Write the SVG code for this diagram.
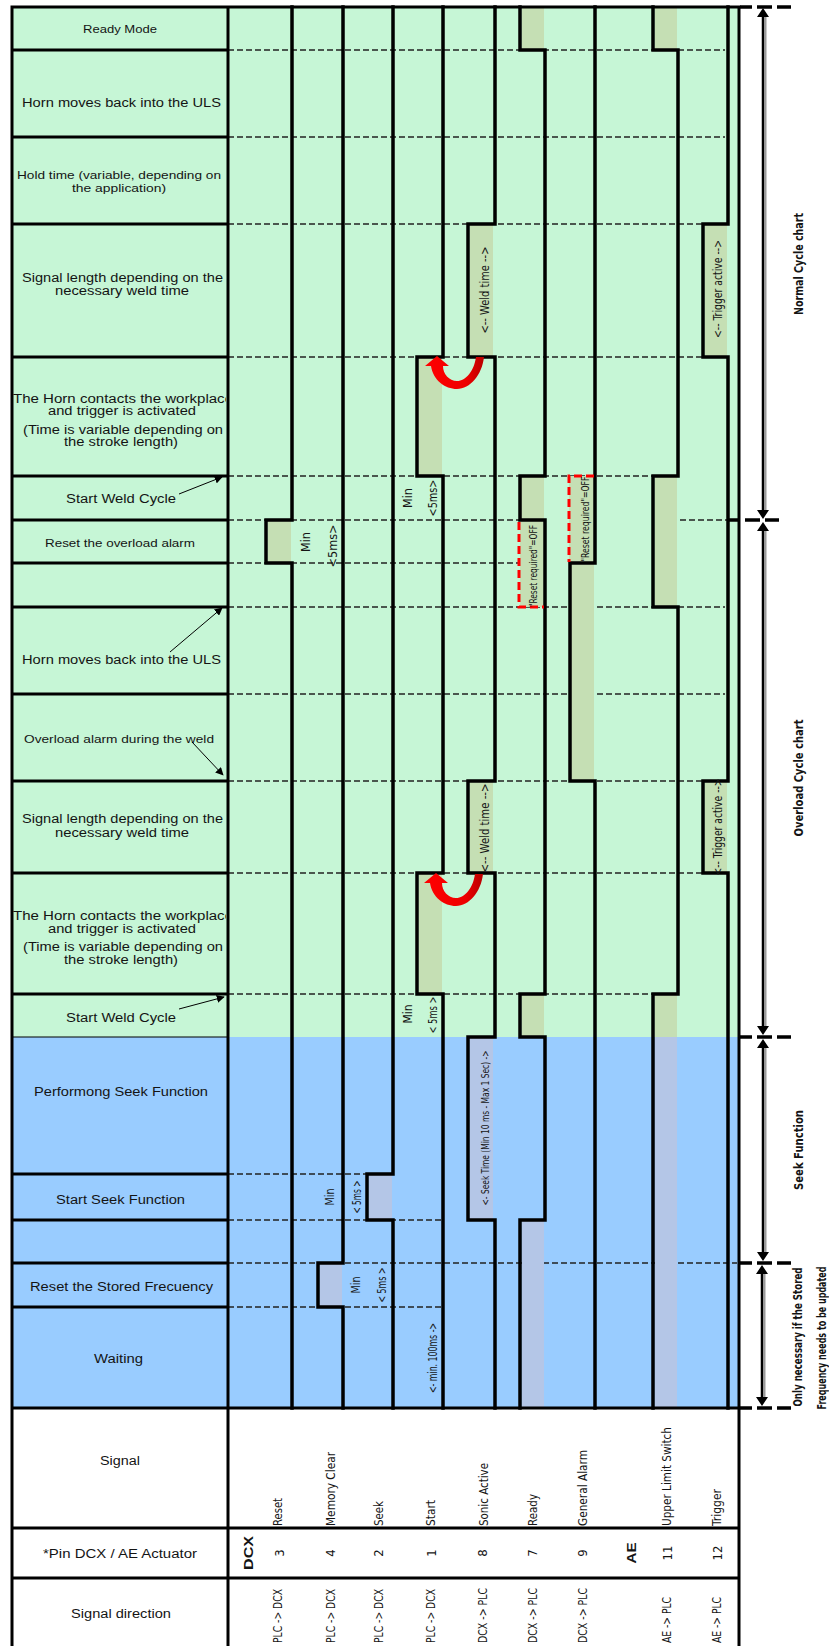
<svg xmlns="http://www.w3.org/2000/svg" width="829" height="1646" viewBox="0 0 829 1646">
<style>
.lbl{font-family:'Liberation Sans',Arial,sans-serif;font-size:12px;fill:#141414}
.nar{font-family:'Liberation Sans Narrow','DejaVu Sans Condensed','Liberation Sans',sans-serif;font-size:13px;fill:#141414}
.b{font-weight:bold}
.sig{fill:none;stroke:#000;stroke-width:3.5;stroke-linejoin:miter;stroke-linecap:square}
.grid{stroke:#000;stroke-width:3;fill:none}
.dash{stroke:#222;stroke-width:1.5;stroke-dasharray:6 3;fill:none}
.mk{stroke:#000;stroke-width:3.5;stroke-dasharray:12 5 15 5 14;fill:none}
.ol{fill:#c5dfb4}
.lv{fill:#b4c6e7}
.red{fill:none;stroke:#ff0000;stroke-width:3;stroke-dasharray:8 4}
.thin{stroke:#000;stroke-width:1;fill:none}
</style>
<defs>
<clipPath id="colclip"><rect x="12" y="0" width="214" height="1646"/></clipPath>
<marker id="ah" viewBox="0 0 10 10" refX="9" refY="5" markerWidth="8" markerHeight="8" orient="auto" markerUnits="userSpaceOnUse"><path d="M0,0 L10,5 L0,10 z" fill="#000"/></marker>
<linearGradient id="rg" x1="0" y1="0" x2="1" y2="0"><stop offset="0" stop-color="#ff0000"/><stop offset="0.7" stop-color="#ee0000"/><stop offset="1" stop-color="#b80000"/></linearGradient>
<path id="uarrow" d="M0,0 L-12,10 L-6,10 C-4,24 8,33 20,33 C33,33 45,19 47,1 L39,1 C37,15 29,25 20,25 C12,25 6,18 6,10 L12,10 Z" fill="url(#rg)"/>
</defs>

<g id="background">
<rect x="12" y="7" width="727" height="1030" fill="#c6f6d6"/>
<rect x="12" y="1037" width="727" height="371" fill="#99ccff"/>
</g>

<g id="row-dashes">
<path class="dash" d="M228,50H725 M228,137H725 M228,224H703 M228,357H703 M228,476H653 M228,520H520 M680,520H728 M228,563H518 M228,607H725 M228,694H725 M228,781H725 M228,873H725 M228,994H653 M228,1174H367 M228,1220H443 M228,1263H737 M228,1307H443"/>
</g>

<g id="shading">
<rect class="ol" x="268" y="520" width="23" height="43"/>
<rect class="lv" x="320" y="1263" width="22" height="44"/>
<rect class="lv" x="369" y="1174" width="23" height="46"/>
<rect class="ol" x="419" y="357" width="23" height="119"/>
<rect class="ol" x="419" y="873" width="23" height="121"/>
<rect class="ol" x="470" y="224" width="23" height="133"/>
<rect class="ol" x="470" y="781" width="23" height="92"/>
<rect class="lv" x="470" y="1037" width="23" height="183"/>
<rect class="ol" x="522" y="7" width="22" height="43"/>
<rect class="ol" x="520" y="476" width="24" height="131"/>
<rect class="ol" x="522" y="994" width="22" height="43"/>
<rect class="lv" x="522" y="1220" width="22" height="188"/>
<rect class="ol" x="569" y="476" width="25" height="305"/>
<rect class="ol" x="655" y="7" width="22" height="43"/>
<rect class="ol" x="655" y="476" width="22" height="131"/>
<rect class="ol" x="655" y="994" width="22" height="43"/>
<rect class="lv" x="655" y="1037" width="22" height="371"/>
<rect class="ol" x="705" y="224" width="22" height="133"/>
<rect class="ol" x="705" y="781" width="22" height="92"/>
</g>

<g id="frame">
<path class="grid" d="M12,50H228 M12,137H228 M12,224H228 M12,357H228 M12,476H228 M12,520H228 M12,563H228 M12,607H228 M12,694H228 M12,781H228 M12,873H228 M12,994H228 M12,1174H228 M12,1220H228 M12,1263H228 M12,1307H228"/>
<path class="thin" d="M12,1037H228"/>
<path class="grid" stroke-width="3.5" d="M10.5,7H740.5 M12,5.5V1646 M228,7V1646 M739,7V1646 M12,1408H739"/>
<path class="grid" stroke-width="1.5" d="M12,1528H739 M12,1578H739"/>
</g>

<g id="signals">
<path id="sig-reset" class="sig" d="M292,7V520H266V563H292V1408"/>
<path id="sig-memclear" class="sig" d="M343,7V1263H318V1307H343V1408"/>
<path id="sig-seek" class="sig" d="M393,7V1174H367V1220H393V1408"/>
<path id="sig-start" class="sig" d="M443,7V357H417V476H443V873H417V994H443V1408"/>
<path id="sig-sonic" class="sig" d="M495,7V224H468V357H495V781H468V873H495V1037H468V1220H495V1408"/>
<path id="sig-ready" class="sig" d="M520,7V50H545V476H520V520H545V994H520V1037H545V1220H520V1408"/>
<path id="sig-alarm" class="sig" d="M595,7V563H570V781H595V1408"/>
<path id="sig-uls" class="sig" d="M653,7V50H678V476H653V607H678V994H653V1408"/>
<path id="sig-trigger" class="sig" d="M728,7V224H703V357H728V781H703V873H728V1408"/>
<path class="red" d="M519,522V607H544"/>
<path class="red" d="M594,476H569V562"/>
</g>

<g id="row-labels" class="lbl">
<g id="r-ready"><text x="83" y="33" font-size="11" textLength="74" lengthAdjust="spacingAndGlyphs">Ready Mode</text></g>
<g id="r-horn-back-1"><text x="22" y="107" font-size="12.5" textLength="199" lengthAdjust="spacingAndGlyphs">Horn moves back into the ULS</text></g>
<g id="r-hold"><text x="17" y="179" font-size="11.5" textLength="204" lengthAdjust="spacingAndGlyphs">Hold time (variable, depending on</text><text x="72" y="192" font-size="11.5" textLength="94" lengthAdjust="spacingAndGlyphs">the application)</text></g>
<g id="r-siglen-1"><text x="22" y="282" font-size="12" textLength="201" lengthAdjust="spacingAndGlyphs">Signal length depending on the</text><text x="55" y="295" font-size="12" textLength="134" lengthAdjust="spacingAndGlyphs">necessary weld time</text></g>
<g id="r-contact-1"><text x="13" y="403" font-size="12" textLength="220" lengthAdjust="spacingAndGlyphs" clip-path="url(#colclip)">The Horn contacts the workplace</text><text x="48" y="415" font-size="12" textLength="148" lengthAdjust="spacingAndGlyphs">and trigger is activated</text><text x="23" y="434" font-size="12" textLength="200" lengthAdjust="spacingAndGlyphs">(Time is variable depending on</text><text x="64" y="446" font-size="12" textLength="114" lengthAdjust="spacingAndGlyphs">the stroke length)</text></g>
<g id="r-start-1"><text x="66" y="503" font-size="12" textLength="110" lengthAdjust="spacingAndGlyphs">Start Weld Cycle</text></g>
<g id="r-reset-ovl"><text x="45" y="547" font-size="11" textLength="150" lengthAdjust="spacingAndGlyphs">Reset the overload alarm</text></g>
<g id="r-empty-1"></g>
<g id="r-horn-back-2"><text x="22" y="664" font-size="12.5" textLength="199" lengthAdjust="spacingAndGlyphs">Horn moves back into the ULS</text></g>
<g id="r-overload"><text x="24" y="743" font-size="11.5" textLength="190" lengthAdjust="spacingAndGlyphs">Overload alarm during the weld</text></g>
<g id="r-siglen-2"><text x="22" y="823" font-size="12" textLength="201" lengthAdjust="spacingAndGlyphs">Signal length depending on the</text><text x="55" y="837" font-size="12" textLength="134" lengthAdjust="spacingAndGlyphs">necessary weld time</text></g>
<g id="r-contact-2"><text x="13" y="920" font-size="12" textLength="220" lengthAdjust="spacingAndGlyphs" clip-path="url(#colclip)">The Horn contacts the workplace</text><text x="48" y="933" font-size="12" textLength="148" lengthAdjust="spacingAndGlyphs">and trigger is activated</text><text x="23" y="951" font-size="12" textLength="200" lengthAdjust="spacingAndGlyphs">(Time is variable depending on</text><text x="64" y="964" font-size="12" textLength="114" lengthAdjust="spacingAndGlyphs">the stroke length)</text></g>
<g id="r-start-2"><text x="66" y="1022" font-size="12" textLength="110" lengthAdjust="spacingAndGlyphs">Start Weld Cycle</text></g>
<g id="r-perform-seek"><text x="34" y="1096" font-size="12.5" textLength="174" lengthAdjust="spacingAndGlyphs">Performong Seek Function</text></g>
<g id="r-start-seek"><text x="56" y="1204" font-size="12.5" textLength="129" lengthAdjust="spacingAndGlyphs">Start Seek Function</text></g>
<g id="r-reset-freq"><text x="30" y="1291" font-size="12.5" textLength="183" lengthAdjust="spacingAndGlyphs">Reset the Stored Frecuency</text></g>
<g id="r-waiting"><text x="94" y="1363" font-size="12" textLength="49" lengthAdjust="spacingAndGlyphs">Waiting</text></g>
<g id="h-signal"><text x="100" y="1465" font-size="12" textLength="40" lengthAdjust="spacingAndGlyphs">Signal</text></g>
<g id="h-pin"><text x="43" y="1558" font-size="12.5" textLength="154" lengthAdjust="spacingAndGlyphs">*Pin DCX / AE Actuator</text></g>
<g id="h-direction"><text x="71" y="1618" font-size="12.5" textLength="100" lengthAdjust="spacingAndGlyphs">Signal direction</text></g>
</g>

<g id="signal-names" class="nar">
<text transform="translate(282,1526) rotate(-90)" textLength="28" lengthAdjust="spacingAndGlyphs">Reset</text>
<text transform="translate(334.5,1526) rotate(-90)" textLength="74" lengthAdjust="spacingAndGlyphs">Memory Clear</text>
<text transform="translate(383,1526) rotate(-90)" textLength="25" lengthAdjust="spacingAndGlyphs">Seek</text>
<text transform="translate(435,1526) rotate(-90)" textLength="26" lengthAdjust="spacingAndGlyphs">Start</text>
<text transform="translate(487.5,1526) rotate(-90)" textLength="63" lengthAdjust="spacingAndGlyphs">Sonic Active</text>
<text transform="translate(537,1526) rotate(-90)" textLength="32" lengthAdjust="spacingAndGlyphs">Ready</text>
<text transform="translate(587,1526) rotate(-90)" textLength="76" lengthAdjust="spacingAndGlyphs">General Alarm</text>
<text transform="translate(671,1526) rotate(-90)" textLength="99" lengthAdjust="spacingAndGlyphs">Upper Limit Switch</text>
<text transform="translate(721,1526) rotate(-90)" textLength="37" lengthAdjust="spacingAndGlyphs">Trigger</text>
</g>

<g id="pins" class="nar" text-anchor="middle">
<text class="lbl b" font-size="16" transform="translate(248.5,1553) rotate(-90)" dy="0.36em" textLength="34" lengthAdjust="spacingAndGlyphs">DCX</text>
<text transform="translate(279,1553) rotate(-90)" dy="0.36em">3</text>
<text transform="translate(330,1553) rotate(-90)" dy="0.36em">4</text>
<text transform="translate(378,1553) rotate(-90)" dy="0.36em">2</text>
<text transform="translate(431,1553) rotate(-90)" dy="0.36em">1</text>
<text transform="translate(482,1553) rotate(-90)" dy="0.36em">8</text>
<text transform="translate(532,1553) rotate(-90)" dy="0.36em">7</text>
<text transform="translate(582,1553) rotate(-90)" dy="0.36em">9</text>
<text class="lbl b" font-size="16" transform="translate(632,1553) rotate(-90)" dy="0.36em" textLength="21" lengthAdjust="spacingAndGlyphs">AE</text>
<text transform="translate(667,1553) rotate(-90)" dy="0.36em">11</text>
<text transform="translate(717,1553) rotate(-90)" dy="0.36em">12</text>
</g>

<g id="directions" class="nar">
<text transform="translate(282,1643) rotate(-90)" textLength="54" lengthAdjust="spacingAndGlyphs">PLC -&gt; DCX</text>
<text transform="translate(335,1643) rotate(-90)" textLength="54" lengthAdjust="spacingAndGlyphs">PLC -&gt; DCX</text>
<text transform="translate(383,1643) rotate(-90)" textLength="54" lengthAdjust="spacingAndGlyphs">PLC -&gt; DCX</text>
<text transform="translate(435,1643) rotate(-90)" textLength="54" lengthAdjust="spacingAndGlyphs">PLC -&gt; DCX</text>
<text transform="translate(487,1643) rotate(-90)" textLength="55" lengthAdjust="spacingAndGlyphs">DCX -&gt; PLC</text>
<text transform="translate(537,1643) rotate(-90)" textLength="55" lengthAdjust="spacingAndGlyphs">DCX -&gt; PLC</text>
<text transform="translate(587,1643) rotate(-90)" textLength="55" lengthAdjust="spacingAndGlyphs">DCX -&gt; PLC</text>
<text transform="translate(671,1643) rotate(-90)" textLength="46" lengthAdjust="spacingAndGlyphs">AE -&gt; PLC</text>
<text transform="translate(721,1643) rotate(-90)" textLength="46" lengthAdjust="spacingAndGlyphs">AE -&gt; PLC</text>
</g>

<g id="timing-notes" class="nar" text-anchor="middle">
<text transform="translate(305,542) rotate(-90)" dy="0.35em" textLength="20" lengthAdjust="spacingAndGlyphs">Min</text>
<text transform="translate(332,546) rotate(-90)" dy="0.35em" textLength="43" lengthAdjust="spacingAndGlyphs">&lt;5ms&gt;</text>
<text transform="translate(407,498) rotate(-90)" dy="0.35em" textLength="20" lengthAdjust="spacingAndGlyphs">Min</text>
<text transform="translate(432,498) rotate(-90)" dy="0.35em" textLength="37" lengthAdjust="spacingAndGlyphs">&lt;5ms&gt;</text>
<text transform="translate(407,1014) rotate(-90)" dy="0.35em" textLength="19" lengthAdjust="spacingAndGlyphs">Min</text>
<text transform="translate(432,1015) rotate(-90)" dy="0.35em" textLength="37" lengthAdjust="spacingAndGlyphs">&lt; 5ms &gt;</text>
<text transform="translate(330,1197) rotate(-90)" dy="0.35em" font-size="12" textLength="17" lengthAdjust="spacingAndGlyphs">Min</text>
<text transform="translate(357,1197) rotate(-90)" dy="0.35em" font-size="12" textLength="33" lengthAdjust="spacingAndGlyphs">&lt; 5ms &gt;</text>
<text transform="translate(356,1285) rotate(-90)" dy="0.35em" font-size="12" textLength="17" lengthAdjust="spacingAndGlyphs">Min</text>
<text transform="translate(382,1285) rotate(-90)" dy="0.35em" font-size="12" textLength="35" lengthAdjust="spacingAndGlyphs">&lt; 5ms &gt;</text>
<text transform="translate(433,1358) rotate(-90)" dy="0.35em" font-size="12" textLength="70" lengthAdjust="spacingAndGlyphs">&lt;- min. 100ms -&gt;</text>
<text transform="translate(484,290) rotate(-90)" dy="0.35em" textLength="87" lengthAdjust="spacingAndGlyphs">&lt;-- Weld time --&gt;</text>
<text transform="translate(484,828) rotate(-90)" dy="0.35em" textLength="89" lengthAdjust="spacingAndGlyphs">&lt;-- Weld time --&gt;</text>
<text transform="translate(717,289) rotate(-90)" dy="0.35em" textLength="98" lengthAdjust="spacingAndGlyphs">&lt;-- Trigger active --&gt;</text>
<text transform="translate(717,827) rotate(-90)" dy="0.35em" textLength="97" lengthAdjust="spacingAndGlyphs">&lt;-- Trigger active --&gt;</text>
<text transform="translate(485,1128) rotate(-90)" dy="0.35em" font-size="11" textLength="155" lengthAdjust="spacingAndGlyphs">&lt;- Seek Time (Min 10 ms - Max 1 Sec) -&gt;</text>
<text transform="translate(533,566) rotate(-90)" dy="0.35em" font-size="11" textLength="82" lengthAdjust="spacingAndGlyphs">"Reset required"=OFF</text>
<text transform="translate(585,519) rotate(-90)" dy="0.35em" font-size="11" textLength="85" lengthAdjust="spacingAndGlyphs">"Reset required"=OFF</text>
</g>

<g id="connectors">
<use href="#uarrow" x="437" y="356"/>
<use href="#uarrow" x="436" y="873"/>
<path class="thin" marker-end="url(#ah)" d="M179,494 L222,477"/>
<path class="thin" marker-end="url(#ah)" d="M170,652 L222,608"/>
<path class="thin" stroke-width="1.5" marker-end="url(#ah)" d="M192,742 L223,775"/>
<path class="thin" marker-end="url(#ah)" d="M179,1009 L224,997"/>
</g>

<g id="range-markers">
<path class="mk" d="M740,7H791 M728,520H791 M740,1037H791 M740,1263H791 M740,1408H791"/>
<path stroke="#9a9a9a" stroke-width="2" fill="none" d="M765.5,16V511 M765.5,530V1027 M765.5,1047V1253 M764.5,1273V1398"/>
<path stroke="#000" stroke-width="2.5" fill="none" d="M763,14V513 M763,528V1029 M763,1045V1255 M762,1271V1400"/>
<path fill="#000" d="M757,17H769L763,8Z M757,510H769L763,519Z M757,531H769L763,522Z M757,1026H769L763,1035Z M757,1048H769L763,1039Z M757,1252H769L763,1261Z M756,1274H768L762,1265Z M756,1397H768L762,1406Z"/>
</g>

<g id="range-labels" class="nar b" text-anchor="middle">
<text transform="translate(798,264) rotate(-90)" dy="0.35em" textLength="102" lengthAdjust="spacingAndGlyphs">Normal Cycle chart</text>
<text transform="translate(798,778) rotate(-90)" dy="0.35em" textLength="117" lengthAdjust="spacingAndGlyphs">Overload Cycle chart</text>
<text transform="translate(798,1150) rotate(-90)" dy="0.35em" textLength="80" lengthAdjust="spacingAndGlyphs">Seek Function</text>
<text transform="translate(798,1337) rotate(-90)" dy="0.35em" font-size="11.5" textLength="139" lengthAdjust="spacingAndGlyphs">Only necessary if the Stored</text>
<text transform="translate(822,1338) rotate(-90)" dy="0.35em" font-size="11.5" textLength="143" lengthAdjust="spacingAndGlyphs">Frequency needs to be updated</text>
</g>
</svg>
